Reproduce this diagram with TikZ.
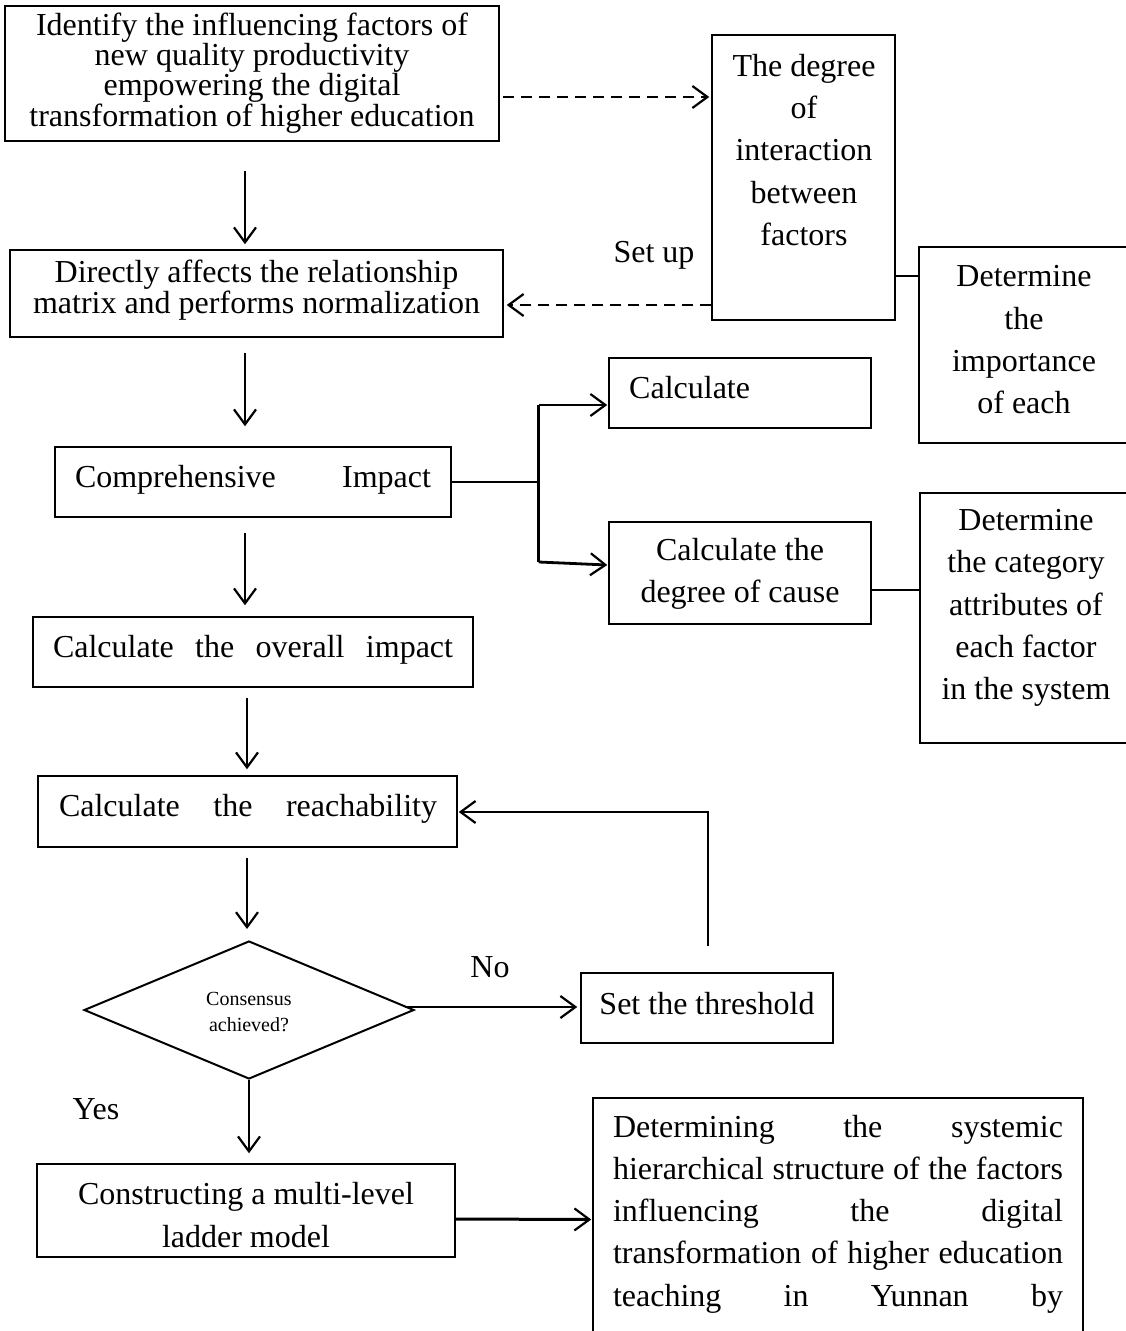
\documentclass[tikz,border=0pt]{standalone}
\usepackage{fontspec}
\setmainfont{Liberation Serif}
\usetikzlibrary{arrows.meta,calc,shapes.geometric}
\begin{document}
\begin{tikzpicture}[x=1pt,y=-1pt,
  box/.style={draw,line width=1.5pt,inner sep=0pt},
  txt/.style={inner sep=0pt,font=\fontsize{32}{42.3}\selectfont,align=center},
  tip/.style={-{Straight Barb[length=15pt,width=22pt,line width=2.2pt]}},
  arr/.style={line width=2.1pt,tip},
  darr/.style={line width=2.4pt,tip,dash pattern=on 11pt off 7pt},
  thick line/.style={line width=2.8pt},
]
\useasboundingbox (0,0) rectangle (1126,1331);
\clip (0,0) rectangle (1126,1331);

% boxes
\node[box,minimum width=494,minimum height=135] (b1) at (252,73.5) {};
\node[box,minimum width=183,minimum height=285] (b2) at (803.5,177.5) {};
\node[box,minimum width=493,minimum height=87] (b3) at (256.5,293.5) {};
\node[box,minimum width=212,minimum height=196] (b4) at (1025,345) {};
\node[box,minimum width=396,minimum height=70] (b5) at (253,482) {};
\node[box,minimum width=262,minimum height=70] (b6) at (740,393) {};
\node[box,minimum width=262,minimum height=102] (b7) at (740,573) {};
\node[box,minimum width=212,minimum height=250] (b8) at (1026,618) {};
\node[box,minimum width=440,minimum height=70] (b9) at (253,652) {};
\node[box,minimum width=419,minimum height=71] (b10) at (247.5,811.5) {};
\node[draw,line width=2pt,diamond,minimum width=330,minimum height=138,inner sep=0pt] (d) at (249,1010) {};
\node[box,minimum width=252,minimum height=70] (b11) at (707,1008) {};
\node[box,minimum width=418,minimum height=93] (b12) at (246,1210.5) {};
\node[box,minimum width=490,minimum height=250] (b13) at (838,1223) {};

% texts
\node[txt,font=\fontsize{32}{29}\selectfont] (t1) at (252,73) {Identify the influencing factors of\\new quality productivity\\empowering the digital\\transformation of higher education};
\node[txt] (t2) at (804,150) {The degree\\of\\interaction\\between\\factors};
\node[txt,font=\fontsize{32}{29}\selectfont] (t3) at (256.5,290) {Directly affects the relationship\\matrix and performs normalization};
\node[txt] (t4) at (1024,340) {Determine\\the\\importance\\of each};
\node[txt] (t5) at (253,480) {\makebox[356pt][s]{Comprehensive Impact}};
\node[txt,anchor=west] (t6) at (629,388) {Calculate};
\node[txt] (t7) at (740,574) {Calculate the\\degree of cause};
\node[txt] (t8) at (1026,608) {Determine\\the category\\attributes of\\each factor\\in the system};
\node[txt] (t9) at (253,650) {\makebox[400pt][s]{Calculate the overall impact}};
\node[txt] (t10) at (248,809) {\makebox[378pt][s]{Calculate the reachability}};
\node[txt,font=\fontsize{20}{26}\selectfont] (td) at (249,1012) {Consensus\\achieved?};
\node[txt] (t11) at (707,1004) {Set the threshold};
\node[txt] (t12) at (246,1215) {Constructing a multi-level\\ladder model};
\node[txt,align=left] (t13) at (838,1214) {\makebox[450pt][s]{Determining the systemic}\\
  \makebox[450pt][s]{hierarchical structure of the factors}\\
  \makebox[450pt][s]{influencing the digital}\\
  \makebox[450pt][s]{transformation of higher education}\\
  \makebox[450pt][s]{teaching in Yunnan by}};
\node[txt] (lsetup) at (654,255) {Set up};
\node[txt] (lno) at (490,967) {No};
\node[txt] (lyes) at (96,1109) {Yes};

% connectors
\draw[darr] ($(b1.east)+(3,23.5)$) -- ($(b2.west)+(-2,-80.5)$);
\draw[darr] ($(b2.west)+(0,127.5)$) -- ($(b3.east)+(3,11.5)$);
\draw[thick line] ($(b2.east)+(0,98.5)$) -- ($(b4.west)+(0,-69)$);
\draw[arr] ($(b1.south)+(-7,29)$) -- ($(b3.north)+(-11.5,-5)$);
\draw[arr] ($(b3.south)+(-11.5,15)$) -- ($(b5.north)+(-8,-20)$);
\draw[arr] ($(b5.south)+(-8,15)$) -- ($(b9.north)+(-8,-11)$);
\draw[arr] ($(b9.south)+(-6,10)$) -- ($(b10.north)+(-0.5,-6)$);
\draw[arr] ($(b10.south)+(-0.5,10)$) -- ($(d.north)+(-2,-11)$);
\draw[arr] (d.south) -- ($(b12.north)+(3,-10)$);
\draw[thick line] (b5.east) -- ++(87,0) coordinate (br);
\draw[thick line] ($(br)+(0,-77)$) -- ($(br)+(0,80)$);
\draw[arr,line width=2.8pt] ($(br)+(0,-77)$) -- ($(b6.west)+(-1,12)$);
\draw[arr,line width=2.8pt] ($(br)+(0,80)$) -- ($(b7.west)+(-1,-8)$);
\draw[thick line] ($(b7.east)+(0,17)$) -- ($(b8.west)+(0,-28)$);
\draw[arr,line width=2.8pt] ($(d.east)+(-10,-3)$) -- ($(b11.west)+(-3,-1)$);
\draw[arr,line width=2.8pt] ($(b11.north)+(1,-26)$) |- ($(b10.east)+(1,0.5)$);
\draw[arr,line width=3pt] ($(b12.east)+(0,8.5)$) -- ($(b13.west)+(-1,-3.5)$);
\end{tikzpicture}
\end{document}
